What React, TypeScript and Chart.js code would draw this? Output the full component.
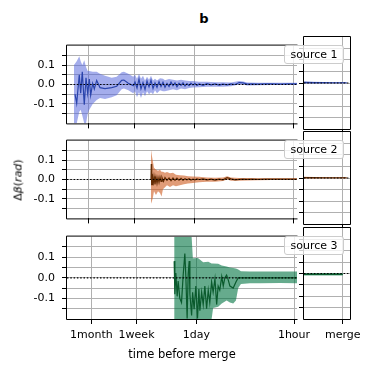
import React, { useEffect, useRef } from 'react';
import { Chart, registerables } from 'chart.js';

Chart.register(...registerables);

const FONT = "'DejaVu Sans', sans-serif";
const GRID = '#b0b0b0';

// ---- axis ticks ----
const yTicks = [-0.15, -0.1, -0.05, 0, 0.05, 0.1, 0.15];
const yTickLabels = ['', '-0.1', '', '0.0', '', '0.1', ''];
const yRange = [-0.2, 0.2];
const xTickHours = [730, 168, 24, 1];
const xTickLabels = ['1month', '1week', '1day', '1hour'];
const xRangeUpper = [0.879, 1478];
const xRangeLower = [0.907, 1616];
const sideTicks = [0];
const sideTickLabels = ['merge'];
const sideRange = [-0.185, 1];

// ---- source 1 ----
const s1Hours = [1141, 1081, 994, 950, 902, 846, 800, 758, 719, 688, 645, 612, 567, 509, 433, 349, 297, 253, 235, 204, 174, 164.4, 154.2, 144.5, 135.5, 127, 119, 111.6, 104.6, 98.1, 91.9, 86.2, 80.8, 75.7, 71, 66.6, 62.4, 58.5, 54.8, 51.4, 48.2, 45.2, 42.4, 39.7, 37.2, 34.9, 32.7, 30.7, 28.7, 27, 25.3, 23.7, 22.2, 20.8, 18.3, 16.1, 14.1, 12.4, 10.9, 9.6, 8.4, 7.4, 6.5, 5.7, 5.0, 4.4, 3.8, 3.1, 2.5, 1.97, 1.52, 1.17, 0.88];
const s1Values = [-0.05, -0.097, 0.05, -0.045, 0.065, -0.104, 0.035, -0.045, 0.028, -0.055, 0.006, -0.023, 0.021, -0.016, -0.021, -0.016, -0.009, 0.021, 0.023, 0.006, -0.006, 0.012, -0.018, 0.028, -0.022, 0.01, -0.025, 0.018, -0.012, 0.022, -0.02, 0.008, -0.015, 0.015, -0.01, 0.012, -0.014, 0.006, -0.01, 0.012, -0.006, 0.008, -0.012, 0.006, -0.004, 0.009, -0.008, 0.004, -0.006, 0.007, -0.003, 0.005, -0.005, 0.003, -0.004, 0.004, -0.002, 0.003, -0.003, 0.002, -0.002, 0.003, 0.0, 0.01, 0.008, 0.002, 0.003, 0.002, 0.003, 0.003, 0.002, 0.003, 0.003];
const s1BandHours = [1179, 1081, 994, 950, 902, 846, 800, 758, 719, 645, 567, 509, 433, 349, 297, 253, 235, 204, 174, 164.4, 154.2, 144.5, 135.5, 127, 119, 111.6, 104.6, 98.1, 91.9, 86.2, 80.8, 73.3, 66.6, 62.4, 54.8, 48.2, 42.4, 37.2, 32.7, 28.7, 25.3, 20.8, 16.1, 12.4, 9.6, 7.4, 5.7, 5.0, 4.4, 3.1, 1.97, 1.17, 0.88];
const s1BandHi = [0.1, 0.12, 0.145, 0.12, 0.1, 0.125, 0.09, 0.07, 0.07, 0.065, 0.065, 0.055, 0.045, 0.035, 0.04, 0.063, 0.066, 0.055, 0.04, 0.05, 0.03, 0.055, 0.03, 0.045, 0.02, 0.04, 0.025, 0.045, 0.02, 0.03, 0.02, 0.032, 0.03, 0.022, 0.028, 0.025, 0.02, 0.024, 0.02, 0.018, 0.018, 0.014, 0.014, 0.012, 0.011, 0.01, 0.018, 0.015, 0.01, 0.009, 0.009, 0.009, 0.009];
const s1BandLo = [-0.2, -0.2, -0.14, -0.13, -0.16, -0.2, -0.2, -0.15, -0.13, -0.1, -0.08, -0.07, -0.075, -0.065, -0.055, -0.025, -0.02, -0.03, -0.045, -0.035, -0.065, -0.04, -0.07, -0.04, -0.06, -0.035, -0.05, -0.04, -0.05, -0.03, -0.045, -0.03, -0.035, -0.035, -0.03, -0.025, -0.03, -0.02, -0.025, -0.018, -0.015, -0.014, -0.012, -0.012, -0.011, -0.009, 0.0, 0.0, -0.005, -0.004, -0.003, -0.003, -0.003];
const s1TailHours = [1, 0.75, 0.5, 0.25, 0, -0.1];
const s1TailValues = [0.003, 0.002, 0.002, 0.001, 0.001, 0.001];
const s1TailHi = [0.006, 0.005, 0.004, 0.003, 0.003, 0.003];
const s1TailLo = [-0.002, -0.002, -0.001, -0.001, -0.001, -0.001];

// ---- source 2 ----
const s2Hours = [98.1, 97.1, 95.9, 94.1, 91.9, 89.0, 86.2, 83.5, 80.8, 78.2, 75.7, 73.3, 71.0, 68.8, 65.5, 62.4, 58.5, 54.8, 51.4, 48.2, 45.2, 42.4, 39.7, 37.2, 34.9, 32.7, 30.7, 28.7, 27.0, 25.3, 23.7, 22.2, 20.8, 18.3, 16.1, 14.1, 12.4, 10.9, 9.6, 8.4, 7.4, 6.5, 5.7, 5.0, 4.4, 3.8, 3.1, 2.5, 1.97, 1.52, 1.17, 0.88];
const s2Values = [0.0, 0.08, -0.03, 0.03, -0.03, 0.015, -0.025, 0.012, -0.02, 0.01, -0.015, 0.012, -0.01, 0.01, -0.01, 0.01, -0.004, 0.008, -0.006, 0.008, -0.004, 0.007, -0.003, 0.006, -0.004, 0.004, -0.002, 0.004, -0.003, 0.002, -0.002, 0.003, 0.0, 0.003, -0.002, 0.002, -0.003, 0.002, -0.002, 0.009, 0.003, -0.002, 0.001, 0.002, 0.001, 0.002, 0.001, 0.002, 0.002, 0.002, 0.002, 0.002];
const s2BandHours = [98.1, 95.0, 91.9, 89.0, 83.5, 78.2, 73.3, 69.9, 66.6, 62.4, 58.5, 53.1, 48.2, 43.8, 38.5, 33.8, 29.7, 25.3, 20.8, 16.1, 12.4, 9.6, 8.4, 7.4, 5.7, 4.4, 3.1, 1.97, 1.17, 0.88];
const s2BandHi = [0.153, 0.12, 0.09, 0.06, 0.05, 0.045, 0.05, 0.04, 0.04, 0.035, 0.038, 0.032, 0.035, 0.025, 0.022, 0.02, 0.017, 0.015, 0.014, 0.01, 0.009, 0.01, 0.017, 0.01, 0.008, 0.008, 0.007, 0.007, 0.006, 0.006];
const s2BandLo = [-0.125, -0.11, -0.09, -0.06, -0.08, -0.06, -0.07, -0.088, -0.05, -0.04, -0.03, -0.038, -0.03, -0.035, -0.03, -0.025, -0.02, -0.018, -0.014, -0.012, -0.012, -0.008, 0.0, -0.006, -0.006, -0.005, -0.004, -0.003, -0.003, -0.003];
const s2TailHours = [1, 0.75, 0.5, 0.25, 0, -0.1];
const s2TailValues = [0.002, 0.002, 0.001, 0.001, 0.001, 0.001];
const s2TailHi = [0.005, 0.004, 0.004, 0.003, 0.003, 0.003];
const s2TailLo = [-0.002, -0.002, -0.001, -0.001, -0.001, -0.001];

// ---- source 3 ----
const s3Hours = [49.4, 48.3, 46.8, 44.8, 43.4, 41.1, 38.9, 36.9, 34.9, 33.8, 32.4, 31.3, 30.3, 29.6, 28.0, 27.1, 25.8, 24.4, 23.1, 22.1, 21.4, 20.2, 19.2, 18.2, 17.2, 16.3, 15.5, 14.6, 13.9, 13.1, 12.4, 11.8, 11.2, 10.5, 10.0, 9.5, 8.96, 8.51, 8.05, 7.23, 6.62, 6.14, 4.94, 3.03, 1.58, 0.907];
const s3Values = [0.081, -0.08, 0.023, -0.09, -0.016, -0.1, -0.12, 0.01, 0.118, 0.008, -0.197, 0.02, 0.081, -0.08, -0.183, -0.07, -0.152, -0.04, -0.197, -0.055, -0.16, -0.07, -0.13, -0.04, -0.15, -0.06, -0.12, -0.02, -0.07, -0.005, -0.13, -0.04, -0.06, 0.006, -0.04, 0.0, 0.013, -0.01, -0.04, -0.05, -0.02, 0.0, 0.0, 0.0, 0.0, 0.0];
const s3BandHours = [49.4, 28.0, 26.9, 22.8, 19.2, 16.3, 14.6, 13.9, 11.8, 10.5, 8.96, 8.05, 7.23, 6.62, 6.14, 5.62, 4.19, 3.03, 1.58, 0.907];
const s3BandHi = [0.2, 0.2, 0.095, 0.096, 0.075, 0.078, 0.07, 0.07, 0.068, 0.06, 0.055, 0.05, 0.048, 0.045, 0.04, 0.032, 0.03, 0.03, 0.03, 0.03];
const s3BandLo = [-0.2, -0.2, -0.2, -0.2, -0.2, -0.2, -0.2, -0.146, -0.14, -0.125, -0.11, -0.12, -0.125, -0.11, -0.05, -0.03, -0.027, -0.026, -0.025, -0.026];
const s3TailHours = [1, 0.75, 0.5, 0.25, 0];
const s3TailValues = [-0.004, -0.004, -0.004, -0.004, -0.004];
const s3TailHi = [0.002, 0.002, 0.002, 0.002, 0.002];
const s3TailLo = [-0.009, -0.009, -0.009, -0.009, -0.009];

const legendNames = ['source 1', 'source 2', 'source 3'];

type Series = {
  hours: number[]; values: number[];
  bandHours: number[]; bandHi: number[]; bandLo: number[];
  tailHours: number[]; tailValues: number[]; tailHi: number[]; tailLo: number[];
  line: string; band: string;
};

const SERIES: Series[] = [
  { hours: s1Hours, values: s1Values, bandHours: s1BandHours, bandHi: s1BandHi, bandLo: s1BandLo,
    tailHours: s1TailHours, tailValues: s1TailValues, tailHi: s1TailHi, tailLo: s1TailLo,
    line: 'rgb(42,68,172)', band: 'rgba(90,105,220,0.55)' },
  { hours: s2Hours, values: s2Values, bandHours: s2BandHours, bandHi: s2BandHi, bandLo: s2BandLo,
    tailHours: s2TailHours, tailValues: s2TailValues, tailHi: s2TailHi, tailLo: s2TailLo,
    line: 'rgb(100,45,5)', band: 'rgba(205,90,30,0.6)' },
  { hours: s3Hours, values: s3Values, bandHours: s3BandHours, bandHi: s3BandHi, bandLo: s3BandLo,
    tailHours: s3TailHours, tailValues: s3TailValues, tailHi: s3TailHi, tailLo: s3TailLo,
    line: 'rgb(10,90,45)', band: 'rgba(0,115,65,0.6)' },
];

// layout (pixels)
const PANELS = [
  { top: 37, bottom: 129 },
  { top: 132, bottom: 224 },
  { top: 228, bottom: 319 },
];
const W = 374, H = 373;
const MAIN_LEFT = 67, MAIN_RIGHT = 297;
const SIDE_CANVAS_LEFT = 290, SIDE_LEFT = 304, SIDE_RIGHT = 350;
const PAD_TOP = 5;

const pts = (xs: number[], ys: number[]) => xs.map((x, i) => ({ x, y: ys[i] }));

const spinesPlugin = {
  id: 'spines',
  afterDatasetsDraw(chart: any, _args: any, opts: any) {
    const { ctx, chartArea: a } = chart;
    const l = a.left - 0.5, r = a.right + 0.5, t = a.top - 0.5, b = a.bottom + 0.5;
    ctx.save();
    ctx.strokeStyle = '#000';
    ctx.lineWidth = 1;
    ctx.beginPath();
    if (opts.left) { ctx.moveTo(l, t); ctx.lineTo(l, b); }
    if (opts.right) { ctx.moveTo(r, t); ctx.lineTo(r, b); }
    if (opts.top) { ctx.moveTo(l, t); ctx.lineTo(r, t); }
    if (opts.bottom) { ctx.moveTo(l, b); ctx.lineTo(r, b); }
    ctx.stroke();
    ctx.restore();
  },
};

function datasetsFor(xs: number[], ys: number[], bx: number[], hi: number[], lo: number[], zeroX: number[], s: Series) {
  return [
    { data: pts(zeroX, [0, 0]), borderColor: '#000', borderWidth: 1.2, borderDash: [1.5, 1.8], pointRadius: 0, fill: false },
    { data: pts(xs, ys), borderColor: s.line, borderWidth: 1.2, pointRadius: 0, fill: false },
    { data: pts(bx, hi), borderColor: 'rgba(0,0,0,0)', borderWidth: 0, backgroundColor: s.band, pointRadius: 0, fill: '+1' },
    { data: pts(bx, lo), borderColor: 'rgba(0,0,0,0)', borderWidth: 0, pointRadius: 0, fill: false },
  ];
}

const gridOpts = { color: GRID, lineWidth: 1, drawTicks: true, tickLength: 5, tickColor: '#000', tickWidth: 1 };
const tickFont = { family: FONT, size: 11 };

function yScale(width: number, labels: boolean) {
  return {
    type: 'linear', min: yRange[0], max: yRange[1],
    afterBuildTicks: (sc: any) => { sc.ticks = yTicks.map((v) => ({ value: v })); },
    afterFit: (sc: any) => { sc.width = width; },
    ticks: { display: labels, autoSkip: false, callback: (_v: any, i: number) => yTickLabels[i], font: tickFont, color: '#000', padding: 7 },
    grid: gridOpts,
    border: { display: false },
  };
}

function baseOptions(padding: any, scales: any, spines: any) {
  return {
    animation: false, responsive: false, maintainAspectRatio: false, devicePixelRatio: 1, events: [],
    layout: { padding },
    plugins: { legend: { display: false }, tooltip: { enabled: false }, title: { display: false }, spines },
    elements: { line: { tension: 0 }, point: { radius: 0 } },
    scales,
  };
}

function mainConfig(idx: number) {
  const p = PANELS[idx];
  const s = SERIES[idx];
  const last = idx === 2;
  const range = last ? xRangeLower : xRangeUpper;
  const xH = last ? H - p.bottom : 8;
  return {
    type: 'line',
    data: { datasets: datasetsFor(s.hours, s.values, s.bandHours, s.bandHi, s.bandLo, [range[1], range[0]], s) },
    options: baseOptions(
      { top: PAD_TOP, left: 0, right: W - MAIN_RIGHT, bottom: 0 },
      {
        x: {
          type: 'logarithmic', reverse: true, bounds: 'data', min: range[0], max: range[1],
          afterBuildTicks: (sc: any) => { sc.ticks = xTickHours.map((v) => ({ value: v })); },
          afterFit: (sc: any) => { sc.height = xH; },
          ticks: { display: last, autoSkip: false, maxRotation: 0, minRotation: 0,
            callback: (_v: any, i: number) => xTickLabels[i], font: tickFont, color: '#000', padding: 5 },
          grid: gridOpts,
          border: { display: false },
          title: { display: last, text: 'time before merge', font: { family: FONT, size: 11.5 }, color: '#000', padding: { top: 0, bottom: 11 } },
        },
        y: yScale(MAIN_LEFT, true),
      },
      { left: true, top: true, bottom: true, right: false },
    ),
    plugins: [spinesPlugin],
  };
}

function sideConfig(idx: number) {
  const p = PANELS[idx];
  const s = SERIES[idx];
  const last = idx === 2;
  const xH = last ? H - p.bottom : 8;
  return {
    type: 'line',
    data: { datasets: datasetsFor(s.tailHours, s.tailValues, s.tailHours, s.tailHi, s.tailLo, [sideRange[1], sideRange[0]], s) },
    options: baseOptions(
      { top: PAD_TOP, left: 0, right: W - SIDE_RIGHT, bottom: 0 },
      {
        x: {
          type: 'linear', reverse: true, bounds: 'data', min: sideRange[0], max: sideRange[1],
          afterBuildTicks: (sc: any) => { sc.ticks = sideTicks.map((v) => ({ value: v })); },
          afterFit: (sc: any) => { sc.height = xH; },
          ticks: { display: last, autoSkip: false, maxRotation: 0, minRotation: 0,
            callback: (_v: any, i: number) => sideTickLabels[i], font: tickFont, color: '#000', padding: 5 },
          grid: gridOpts,
          border: { display: false },
        },
        y: yScale(SIDE_LEFT - SIDE_CANVAS_LEFT, false),
      },
      { left: true, top: true, bottom: true, right: true },
    ),
    plugins: [spinesPlugin],
  };
}

function ChartCanvas({ left, top, width, height, make }: { left: number; top: number; width: number; height: number; make: () => any }) {
  const ref = useRef<HTMLCanvasElement>(null);
  useEffect(() => {
    const chart = new Chart(ref.current as HTMLCanvasElement, make());
    return () => chart.destroy();
  }, []);
  return (
    <canvas ref={ref} width={width} height={height}
      style={{ position: 'absolute', left, top, width, height, display: 'block' }} />
  );
}

export default function App() {
  const canvases: any[] = [];
  PANELS.forEach((p, i) => {
    const xH = i === 2 ? H - p.bottom : 8;
    const h = p.bottom - p.top + PAD_TOP + xH;
    canvases.push(<ChartCanvas key={'m' + i} left={0} top={p.top - PAD_TOP} width={W} height={h} make={() => mainConfig(i)} />);
    canvases.push(<ChartCanvas key={'s' + i} left={SIDE_CANVAS_LEFT} top={p.top - PAD_TOP} width={W - SIDE_CANVAS_LEFT} height={h} make={() => sideConfig(i)} />);
  });
  return (
    <div style={{ position: 'absolute', left: 0, top: 0, width: W, height: H, background: '#fff', overflow: 'hidden', fontFamily: FONT, color: '#000' }}>
      {canvases}
      <div style={{ position: 'absolute', left: 204, top: 18, transform: 'translate(-50%,-50%)', fontWeight: 'bold', fontSize: 13, lineHeight: '15px' }}>b</div>
      <div style={{ position: 'absolute', left: 18, top: 180, transform: 'translate(-50%,-50%) rotate(-90deg)', whiteSpace: 'nowrap', fontSize: 11, lineHeight: '13px' }}>
        Δ<i>β</i>(<i>rad</i>)
      </div>
      {PANELS.map((p, i) => (
        <div key={'l' + i} style={{
          position: 'absolute', left: 284, top: p.top + 8, width: 60, height: 19, boxSizing: 'border-box',
          border: '1px solid #cccccc', borderRadius: 3, background: 'rgba(255,255,255,0.8)',
          fontSize: 11, lineHeight: '17px', textAlign: 'center', whiteSpace: 'nowrap',
        }}>{legendNames[i]}</div>
      ))}
    </div>
  );
}
